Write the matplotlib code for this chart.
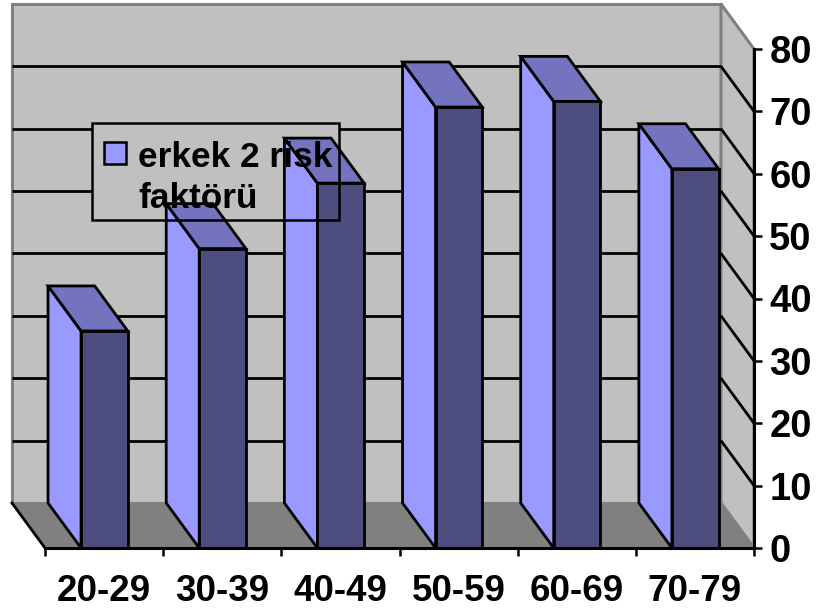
import matplotlib
matplotlib.use("Agg")
import matplotlib.pyplot as plt
from matplotlib.patches import Polygon, Rectangle

# age groups and percentages
age_groups = ["20-29", "30-39", "40-49", "50-59", "60-69", "70-79"]
values = [34.8, 48, 58.5, 70.7, 71.6, 60.8]
y_ticks = [0, 10, 20, 30, 40, 50, 60, 70, 80]
legend_label = "erkek 2 risk\nfaktörü"

W, H = 818, 614
plt.rcParams["font.family"] = ["Liberation Sans", "DejaVu Sans"]
plt.rcParams["font.weight"] = "bold"

fig = plt.figure(figsize=(W / 100, H / 100), dpi=100)
# plot area of the front plane, in pixels
left, right, bottom, top = 45, 754, 548, 49
ax = fig.add_axes([left / W, 1 - bottom / H, (right - left) / W, (bottom - top) / H])
ax.set_xlim(0, 6)
ax.set_ylim(0, 80)
ax.patch.set_visible(False)

# oblique depth offset, in data units
DX = 33 / ((right - left) / 6)
DY = 45 / ((bottom - top) / 80)
LW = 2.0


def pt(x, y, d):
    return (x - d * DX, y + d * DY)


def face(points, fc, ec="black", lw=LW, z=2):
    ax.add_patch(Polygon([pt(*p) for p in points], closed=True, fc=fc, ec=ec, lw=lw,
                         zorder=z, clip_on=False, joinstyle="miter"))


WALL = "#c0c0c0"
FLOOR = "#808080"
# back wall, side wall, floor
face([(0, 0, 1), (6, 0, 1), (6, 80, 1), (0, 80, 1)], WALL, FLOOR, 2.2, 1)
face([(6, 0, 1), (6, 0, 0), (6, 80, 0), (6, 80, 1)], WALL, FLOOR, 2.2, 1)
face([(0, 0, 0), (6, 0, 0), (6, 0, 1), (0, 0, 1)], FLOOR, FLOOR, 1.0, 1)

# gridlines run along the back wall and down the side wall
for t in y_ticks[1:-1]:
    xs, ys = zip(pt(0, t, 1), pt(6, t, 1))
    ax.plot(xs, ys, color="black", lw=LW, zorder=1.5, clip_on=False, solid_capstyle="butt")
    xs, ys = zip(pt(6, t, 1), pt(6, t, 0))
    ax.plot(xs, ys, color="black", lw=LW, zorder=1.5, clip_on=False, solid_capstyle="butt")

# floor edges
xs, ys = zip(pt(0, 0, 1), pt(0, 0, 0))
ax.plot(xs, ys, color="black", lw=LW, zorder=1.6, clip_on=False)
xs, ys = zip(pt(6, 0, 1), pt(6, 0, 0))
ax.plot(xs, ys, color=FLOOR, lw=2.0, zorder=1.6, clip_on=False)

# the legend fill hides the gridlines but stays behind the bars
ft = fig.transFigure
ax.add_patch(Rectangle((92 / W, 1 - 220 / H), 247 / W, 97 / H, fc=WALL, ec="none", transform=ft,
                       zorder=1.7, clip_on=False))

# bars: side, top and front faces
for i, v in enumerate(values):
    x0, x1 = i + 0.305, i + 0.70
    face([(x0, 0, 0), (x0, v, 0), (x0, v, 1), (x0, 0, 1)], "#9999ff")
    face([(x0, v, 0), (x1, v, 0), (x1, v, 1), (x0, v, 1)], "#7373bf")
    face([(x0, 0, 0), (x1, 0, 0), (x1, v, 0), (x0, v, 0)], "#4d4d80")

# axes
for s in ["top", "left"]:
    ax.spines[s].set_visible(False)
for s in ["bottom", "right"]:
    ax.spines[s].set_linewidth(2.2)
    ax.spines[s].set_zorder(5)
ax.yaxis.tick_right()
ax.set_yticks(y_ticks)
ax.set_xticks(range(7))
ax.set_xticklabels([])
ax.set_xticks([i + 0.5 for i in range(6)], age_groups, minor=True)
ax.tick_params(axis="both", which="major", length=6, width=1.8, labelsize=27.5, pad=5)
ax.tick_params(axis="x", which="minor", length=0, labelsize=26.5, pad=19)

# legend border and text over the bars
fig.add_artist(Rectangle((92 / W, 1 - 220 / H), 247 / W, 97 / H, fc="none", ec="black", lw=1.8, transform=ft, zorder=10))
fig.add_artist(Rectangle((104 / W, 1 - 164 / H), 22 / W, 22 / H, fc="#9999ff", ec="black", lw=1.8, transform=ft, zorder=10))
fig.text(138 / W, 1 - 208 / H, legend_label, fontsize=25.4, ha="left", va="baseline",
         linespacing=1.3, zorder=11)

fig.savefig("out.png", dpi=100)
